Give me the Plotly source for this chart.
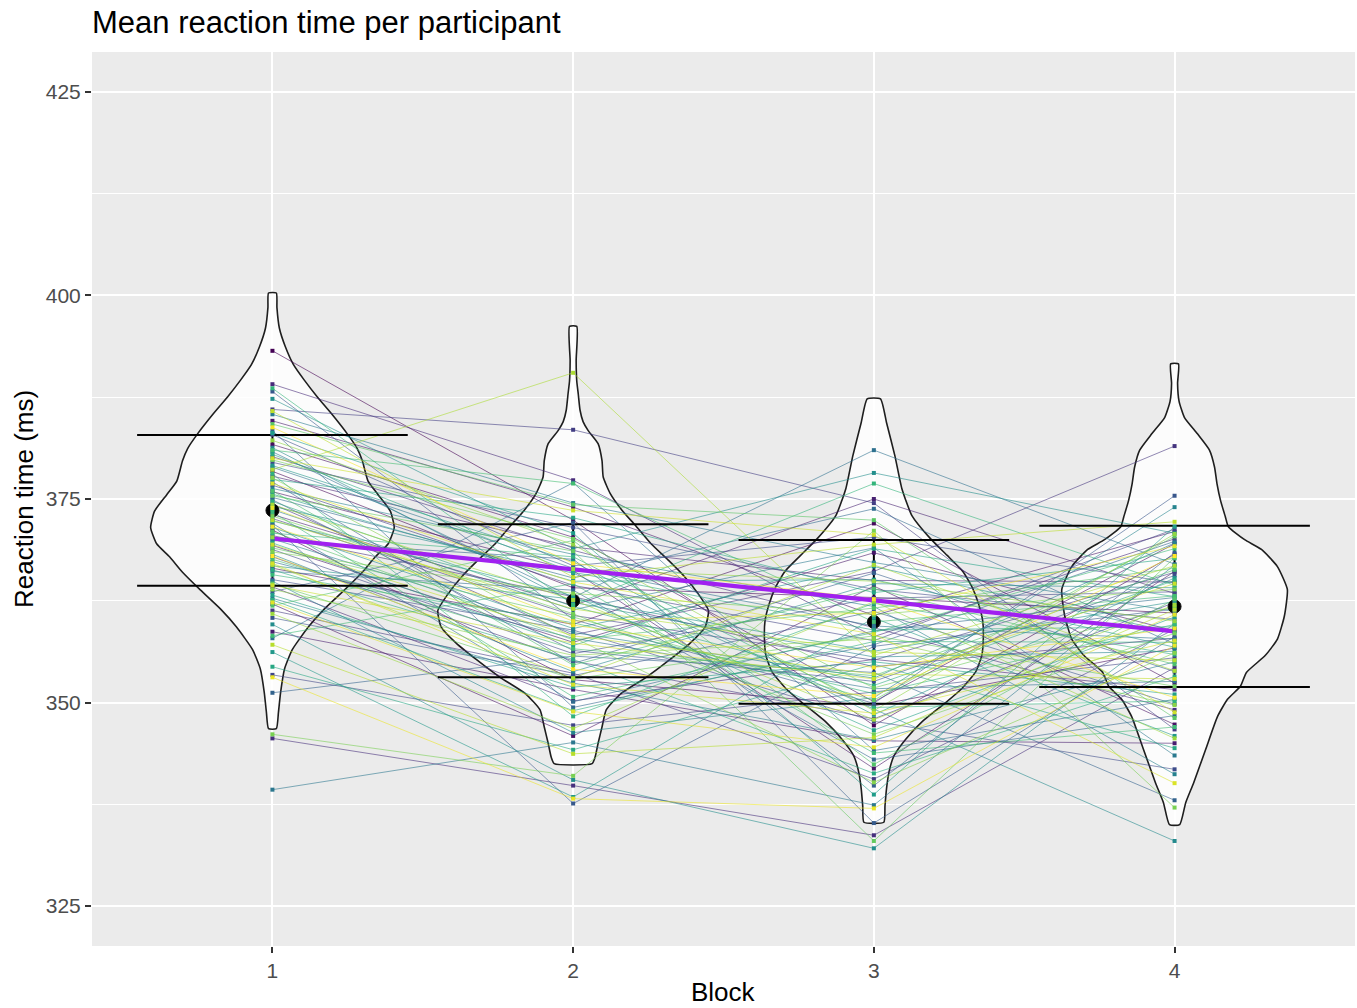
import numpy as np
import plotly.graph_objects as go
from plotly.colors import sample_colorscale

blocks = [1, 2, 3, 4]

# Mean reaction time (ms) per participant in each block
block1_rt = [
    393.2, 378.4, 371.2, 366.5, 381.7, 362.1, 375.9, 369.3, 384.6, 358.7, 373.1, 377.8, 364.2, 389.1,
    370.5, 345.6, 380.2, 374.4, 367.9, 361.3, 386.0, 372.6, 376.7, 353.4, 368.8, 379.5, 365.1, 382.9,
    374.9, 360.4, 388.2, 371.8, 363.6, 377.1, 369.9, 351.2, 383.4, 366.1, 375.2, 372.0, 357.9, 380.8,
    367.3, 378.9, 339.3, 373.7, 385.4, 362.8, 370.1, 376.3, 364.9, 381.3, 368.2, 374.1, 359.6, 387.3,
    371.5, 366.8, 379.1, 356.2, 375.6, 383.1, 363.2, 372.3, 369.6, 377.4, 354.4, 380.5, 366.3, 374.7,
    362.6, 378.1, 370.8, 388.6, 365.7, 373.4, 358.2, 381.0, 367.6, 376.0, 361.9, 371.0, 384.2, 369.0,
    375.4, 364.6, 379.8, 372.9, 346.1, 368.5, 377.6, 363.9, 382.2, 370.3, 360.9, 374.3, 366.9, 378.6,
    372.4, 357.1, 385.8, 369.4, 364.4, 380.0, 367.1, 376.9, 362.3, 373.9, 353.1, 371.6, 383.8, 368.0,
]
block2_rt = [
    372.4, 364.1, 352.8, 359.6, 370.3, 345.9, 366.2, 357.4, 374.0, 351.6, 361.9, 369.1, 350.2, 377.3,
    363.0, 339.8, 368.7, 358.3, 355.1, 353.6, 383.5, 360.7, 364.4, 347.2, 356.0, 371.5, 358.9, 366.8,
    356.4, 353.3, 360.2, 337.6, 372.1, 354.8, 367.6, 355.7, 349.4, 363.8, 365.3, 350.1, 377.0, 362.9,
    357.9, 366.5, 345.1, 361.4, 374.5, 352.4, 358.6, 368.2, 346.3, 362.3, 353.8, 365.9, 340.5, 368.9,
    359.1, 362.7, 367.3, 338.4, 364.9, 370.8, 351.9, 363.1, 357.0, 372.7, 344.2, 366.0, 355.3, 361.8,
    349.0, 348.3, 367.9, 362.0, 359.8, 350.7, 364.6, 376.9, 356.6, 354.6, 369.9, 357.7, 374.3, 360.5,
    368.6, 352.9, 370.1, 360.9, 341.0, 363.4, 358.0, 355.8, 369.4, 366.4, 346.8, 362.6, 353.0, 390.5,
    361.5, 343.7, 365.4, 358.2, 357.3, 373.6, 352.2, 364.8, 348.9, 360.0, 338.2, 359.5, 367.1, 354.1,
]
block3_rt = [
    347.2, 362.9, 349.6, 372.0, 350.1, 364.3, 341.9, 368.4, 360.7, 345.3, 375.0, 365.0, 355.3, 358.1,
    354.4, 333.7, 359.2, 366.1, 348.0, 340.6, 374.5, 355.2, 357.6, 351.3, 362.8, 363.9, 347.7, 370.3,
    352.6, 361.2, 349.9, 356.9, 335.2, 365.9, 339.8, 353.7, 357.1, 343.0, 373.8, 358.8, 344.1, 381.0,
    351.7, 359.4, 337.4, 369.0, 367.2, 345.4, 353.0, 361.8, 350.6, 355.6, 364.6, 349.2, 332.1, 378.2,
    366.7, 356.3, 348.5, 360.4, 365.1, 338.7, 355.0, 346.6, 368.9, 363.5, 354.7, 358.9, 341.3, 352.1,
    357.5, 362.2, 349.4, 376.9, 351.1, 358.6, 343.8, 359.9, 353.3, 364.0, 342.4, 361.6, 372.4, 350.3,
    333.0, 358.2, 351.8, 346.1, 371.1, 360.8, 340.2, 357.8, 349.0, 364.9, 362.4, 347.9, 366.9, 355.8,
    356.2, 345.7, 369.4, 353.5, 352.9, 370.6, 348.7, 358.4, 344.5, 361.0, 337.0, 354.3, 362.7, 350.8,
]
block4_rt = [
    368.2, 361.0, 356.7, 352.4, 369.5, 347.3, 366.1, 358.8, 371.0, 345.0, 363.4, 364.8, 351.6, 370.1,
    357.9, 354.3, 349.1, 381.5, 362.3, 359.0, 346.7, 366.0, 371.3, 355.5, 363.6, 360.2, 341.8, 364.7,
    365.6, 349.8, 375.4, 361.5, 358.1, 353.8, 368.4, 338.0, 369.8, 348.4, 357.2, 362.9, 350.4, 367.0,
    352.6, 357.8, 366.9, 343.5, 361.2, 355.0, 369.6, 341.2, 374.0, 356.3, 364.1, 333.0, 359.7, 370.8,
    358.6, 362.4, 365.3, 345.9, 356.8, 371.6, 351.0, 360.5, 363.0, 367.7, 344.4, 359.3, 353.2, 365.0,
    357.4, 355.9, 350.2, 364.4, 359.6, 368.9, 347.0, 363.1, 366.3, 354.7, 362.7, 366.5, 348.1, 370.4,
    367.8, 352.0, 361.8, 358.5, 337.1, 363.9, 356.1, 349.7, 370.7, 360.0, 345.6, 362.0, 353.9, 366.8,
    355.2, 361.4, 372.2, 352.9, 364.6, 348.8, 357.6, 340.1, 360.8, 369.2, 357.0, 359.1, 350.6, 368.0,
]

# Block summaries: mean and standard deviation
block_mean = [373.6, 362.5, 359.9, 361.8]
block_sd = [9.25, 9.4, 10.05, 9.9]

# Violin outlines: RT levels and half-widths (x-axis units)
violin_y = {
    1: [400.3, 398.5, 396.0, 393.7, 391.5, 389.6, 387.5, 385.5, 383.0, 381.2, 379.7, 377.2, 375.5,
        373.5, 371.5, 369.5, 367.9, 366.0, 363.8, 361.5, 359.3, 356.5, 354.1, 351.2, 348.8, 346.8],
    2: [396.2, 392.0, 389.5, 387.9, 385.9, 384.5, 383.4, 381.8, 379.7, 377.7, 375.7, 373.6, 371.8,
        369.5, 367.4, 365.4, 363.4, 361.3, 359.3, 357.3, 355.2, 353.1, 351.1, 349.1, 347.0, 345.0,
        343.3, 342.5],
    3: [387.3, 384.4, 380.3, 376.3, 373.0, 370.1, 368.1, 366.1, 364.0, 362.0, 360.0, 358.0, 355.8,
        353.8, 351.7, 350.0, 347.6, 345.5, 343.4, 341.4, 339.4, 337.3, 335.3],
    4: [391.6, 389.2, 387.0, 385.0, 383.0, 381.0, 378.9, 376.9, 374.8, 372.8, 371.6, 370.0, 368.8,
        366.7, 363.9, 360.6, 357.8, 355.8, 353.7, 352.0, 350.4, 348.3, 344.2, 340.1, 337.7, 335.0],
}
violin_hw = {
    1: [0.013, 0.015, 0.023, 0.043, 0.070, 0.106, 0.150, 0.196, 0.249, 0.282, 0.299, 0.318, 0.352,
        0.392, 0.405, 0.385, 0.342, 0.299, 0.239, 0.173, 0.120, 0.066, 0.040, 0.027, 0.020, 0.013],
    2: [0.012, 0.010, 0.012, 0.017, 0.023, 0.033, 0.050, 0.083, 0.096, 0.100, 0.123, 0.163, 0.206,
        0.259, 0.319, 0.372, 0.415, 0.450, 0.439, 0.389, 0.319, 0.243, 0.159, 0.110, 0.096, 0.083,
        0.073, 0.063],
    3: [0.022, 0.042, 0.070, 0.093, 0.126, 0.189, 0.243, 0.296, 0.329, 0.349, 0.362, 0.364, 0.359,
        0.339, 0.292, 0.239, 0.159, 0.106, 0.066, 0.050, 0.042, 0.037, 0.033],
    4: [0.013, 0.010, 0.015, 0.033, 0.076, 0.116, 0.133, 0.141, 0.153, 0.169, 0.179, 0.233, 0.289,
        0.342, 0.375, 0.365, 0.342, 0.302, 0.239, 0.219, 0.176, 0.143, 0.103, 0.063, 0.037, 0.017],
}

y_ticks = [325, 350, 375, 400, 425]
x_tick_labels = ["1", "2", "3", "4"]

FONT = "Liberation Sans, Arial, sans-serif"
ERRBAR_HALF = 0.45

rt = np.array([block1_rt, block2_rt, block3_rt, block4_rt]).T
n_part = rt.shape[0]
colors = sample_colorscale("Viridis", [i / (n_part - 1) for i in range(n_part)])

fig = go.Figure()

# violins
for b in blocks:
    ys = np.array(violin_y[b])
    hw = np.array(violin_hw[b])
    xs = np.concatenate([b - hw, (b + hw)[::-1], [b - hw[0]]])
    yy = np.concatenate([ys, ys[::-1], [ys[0]]])
    fig.add_trace(go.Scatter(
        x=xs, y=yy, mode="lines", fill="toself",
        fillcolor="rgba(255,255,255,0.82)",
        line=dict(color="#1e1e1e", width=1.6, shape="spline", smoothing=0.5),
        hoverinfo="skip", showlegend=False,
    ))

# one line per participant across blocks
for i in range(n_part):
    fig.add_trace(go.Scatter(
        x=blocks, y=rt[i], mode="lines",
        line=dict(color=colors[i], width=0.9),
        opacity=0.65, hoverinfo="skip", showlegend=False,
    ))

# mean +/- SD error bars
ex, ey = [], []
for b, m, s in zip(blocks, block_mean, block_sd):
    ex += [b - ERRBAR_HALF, b + ERRBAR_HALF, None, b - ERRBAR_HALF, b + ERRBAR_HALF, None, b, b, None]
    ey += [m + s, m + s, None, m - s, m - s, None, m + s, m - s, None]
fig.add_trace(go.Scatter(
    x=ex, y=ey, mode="lines", line=dict(color="black", width=2),
    hoverinfo="skip", showlegend=False,
))

# linear trend across blocks
slope, intercept = np.polyfit(blocks, block_mean, 1)
fx = np.array([blocks[0], blocks[-1]])
fig.add_trace(go.Scatter(
    x=fx, y=slope * fx + intercept, mode="lines",
    line=dict(color="#A020F0", width=4.2),
    hoverinfo="skip", showlegend=False,
))

# block means
fig.add_trace(go.Scatter(
    x=blocks, y=block_mean, mode="markers",
    marker=dict(color="black", size=13, line=dict(color="#111", width=1)),
    hoverinfo="skip", showlegend=False,
))

# participant points
for j, b in enumerate(blocks):
    fig.add_trace(go.Scatter(
        x=[b] * n_part, y=rt[:, j], mode="markers",
        marker=dict(color=colors, size=4, symbol="square", line=dict(width=0)),
        hoverinfo="skip", showlegend=False,
    ))

fig.update_layout(
    width=1357, height=1008,
    margin=dict(l=92, r=2, t=52, b=62),
    paper_bgcolor="white", plot_bgcolor="#EBEBEB",
    font=dict(family=FONT, color="black"),
    title=dict(
        text="Mean reaction time per participant",
        x=0, xref="paper", xanchor="left",
        y=1 - 22 / 1008, yref="container", yanchor="middle",
        font=dict(size=31, color="black", family=FONT),
    ),
    showlegend=False,
)
fig.update_xaxes(
    range=[0.4, 4.6], tickmode="array", tickvals=blocks, ticktext=x_tick_labels,
    showgrid=True, gridcolor="white", gridwidth=2, zeroline=False,
    ticks="outside", ticklen=6, tickwidth=1.5, tickcolor="#333333",
    tickfont=dict(size=21, color="#4D4D4D", family=FONT),
    showline=False,
)
fig.update_yaxes(
    range=[320.1, 429.9], tickmode="array", tickvals=y_ticks,
    showgrid=True, gridcolor="white", gridwidth=2, zeroline=False,
    ticks="outside", ticklen=6, tickwidth=1.5, tickcolor="#333333",
    tickfont=dict(size=21, color="#4D4D4D", family=FONT),
    minor=dict(tickvals=[337.5, 362.5, 387.5, 412.5], showgrid=True, gridcolor="white",
               gridwidth=1, ticks=""),
    showline=False,
)

fig.add_annotation(
    text="Block", xref="paper", yref="paper", x=0.5, y=-46 / 894,
    xanchor="center", yanchor="middle", showarrow=False,
    font=dict(size=26, color="black", family=FONT),
)
fig.add_annotation(
    text="Reaction time (ms)", xref="paper", yref="paper", x=-68 / 1263, y=0.5,
    xanchor="center", yanchor="middle", textangle=-90, showarrow=False,
    font=dict(size=26, color="black", family=FONT),
)

fig.write_html("out.html")
